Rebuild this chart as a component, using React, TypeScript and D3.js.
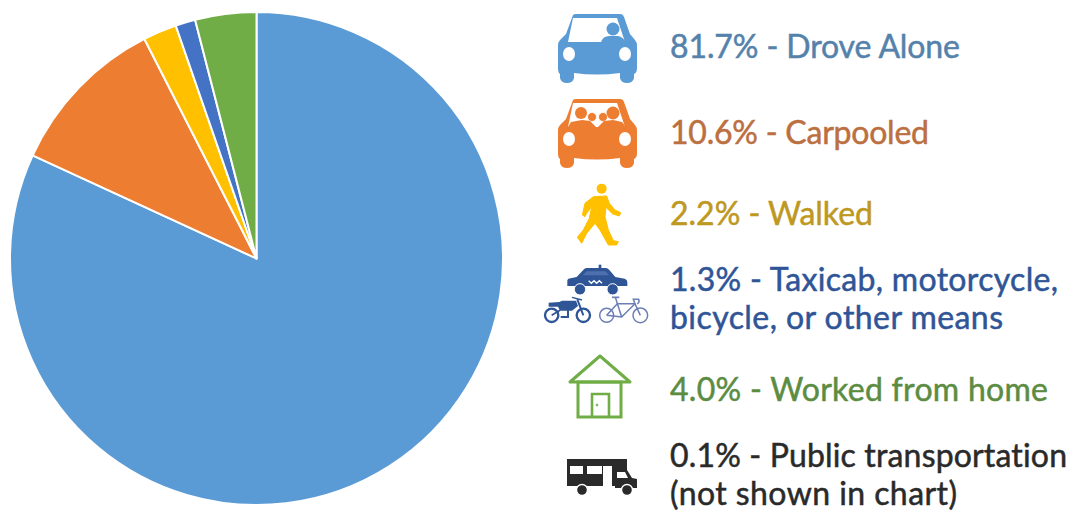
import React from "react";
import * as d3 from "d3";

const WIDTH = 1073;
const HEIGHT = 516;

const categories = ["Drove Alone", "Carpooled", "Walked", "Taxicab, motorcycle, bicycle, or other means", "Worked from home"];
const shares = [81.7, 10.6, 2.2, 1.3, 4.0];
const sliceColors = ["#5B9BD5", "#ED7D31", "#FFC000", "#4472C4", "#70AD47"];

const legendText = [
  ["81.7% - Drove Alone"],
  ["10.6% - Carpooled"],
  ["2.2% - Walked"],
  ["1.3% - Taxicab, motorcycle,", "bicycle, or other means"],
  ["4.0% - Worked from home"],
  ["0.1% - Public transportation", "(not shown in chart)"],
];
const legendColors = ["#5482AB", "#BC6F3F", "#BE981F", "#2F5597", "#5C8C42", "#2A2A2A"];

// Legend layout: baselines and rendered widths for each line of each row.
const legendBaselines = [[58], [144], [225], [291, 329], [401], [467, 505]];
const legendWidths = [[290], [259], [203], [388, 333], [378], [397, 287]];

const font = "Lato, 'Open Sans', sans-serif";

function Car({ dy, color, children }: { dy: number; color: string; children?: React.ReactNode }) {
  return (
    <g transform={`translate(0,${dy})`} fill={color}>
      <path d="M573 15 Q574 14 576 14 L620 14 Q623 14 624 17 L630 34 L635 40 Q637 42 637 46 L637 68 Q637 73 634 74 L634 78 Q633 83 627 83 Q621 83 620 78 L620 73 Q597 76 574 73 L574 78 Q573 83 567 83 Q561 83 560 78 L560 74 Q558 73 558 68 L558 46 Q558 42 560 40 L566 34 Z" />
      <path d="M573 18 L617 18 L625 42 L568 42 Z" fill="#fff" />
      <ellipse cx={569} cy={54} rx={6} ry={7} fill="#fff" />
      <ellipse cx={625} cy={54} rx={6} ry={7} fill="#fff" />
      {children}
    </g>
  );
}

function Walker({ color }: { color: string }) {
  return (
    <g transform="translate(540,0) scale(0.3333)" fill={color}>
      <circle cx={185} cy={566} r={15} />
      <path
        d="M160 590 L200 588 L208 610 L225 630 L242 638 L238 648 L218 642 L198 622 L195 650 L205 690 L220 722 L235 725 L230 735 L205 735 L180 690 L165 670 L140 700 L125 730 L112 712 L130 690 L148 655 L155 620 L140 640 L135 650 L127 645 L135 610 Z"
        strokeLinejoin="round"
        stroke={color}
        strokeWidth={3}
      />
    </g>
  );
}

function TaxiAndCycles() {
  const c = "#2F5597";
  const light = "#6C7FB5";
  return (
    <g transform="translate(540,262) scale(0.3333)">
      {/* taxi */}
      <path d="M82 54 Q84 50 92 49 L110 45 L132 22 Q135 18 142 18 L198 18 Q203 18 208 24 L226 45 L254 50 Q262 52 262 60 L262 72 L82 72 Z" fill={c} />
      <rect x={176} y={8} width={8} height={10} fill={c} />
      <path d="M128 40 L140 28 L196 28 L208 40 Z" fill="#4F70AE" />
      <circle cx={120} cy={82} r={17} fill={c} stroke="#fff" strokeWidth={3} />
      <circle cx={218} cy={82} r={17} fill={c} stroke="#fff" strokeWidth={3} />
      <path d="M146 56 L154 64 L162 56 L170 64 L178 56 L186 64" stroke="#fff" strokeWidth={4} fill="none" />

      {/* motorcycle */}
      <g stroke={c} fill="none">
        <circle cx={35} cy={160} r={20} strokeWidth={7} />
        <circle cx={130} cy={160} r={20} strokeWidth={7} />
        <path d="M112 112 L130 160" strokeWidth={6} />
        <path d="M96 106 L126 114" strokeWidth={4} />
        <path d="M35 160 L60 145" strokeWidth={5} />
        <path d="M84 138 L84 165 L62 165" strokeWidth={6} />
      </g>
      <path d="M26 122 L58 120 L66 116 L108 116 L114 132 L96 146 L60 146 L54 134 L26 134 Z" fill={c} />

      {/* bicycle */}
      <g stroke={light} fill="none" strokeWidth={4.5}>
        <circle cx={200} cy={160} r={21} />
        <circle cx={301} cy={160} r={22} />
        <path d="M200 160 L232 125 L285 125 L301 160" />
        <path d="M200 160 L245 165 L285 125" />
        <path d="M226 106 L245 165" />
        <path d="M216 106 L238 106" strokeWidth={5} />
        <path d="M285 125 L280 112 L296 112 Q300 120 292 126" />
      </g>
    </g>
  );
}

function House() {
  const c = "#70AD47";
  return (
    <g fill="none" stroke={c} strokeWidth={3}>
      <path d="M570 382 L600 356 L630 382 Z" strokeLinejoin="round" />
      <rect x={578} y={382} width={43} height={35} />
      <path d="M592 416 L592 394 L609 394 L609 416" strokeWidth={2.6} />
      <circle cx={597} cy={405} r={1} fill={c} strokeWidth={0.6} />
    </g>
  );
}

function Bus() {
  const c = "#2A2A2A";
  return (
    <g>
      <path d="M567 459 L627 459 L627 470 L615 470 L615 486 L567 486 Z" fill={c} />
      <path d="M615 470 L627 470 L632 478 L637 479 L637 488 L615 488 Z" fill={c} />
      <rect x={570} y={466} width={13} height={8} fill="#fff" />
      <rect x={587} y={466} width={15} height={8} fill="#fff" />
      <rect x={603} y={466} width={9} height={20} fill="#fff" />
      <path d="M617 472 L625 472 L628 478 L617 478 Z" fill="#fff" />
      <circle cx={582} cy={490} r={5.5} fill={c} stroke="#fff" strokeWidth={1.4} />
      <circle cx={627} cy={490} r={5.5} fill={c} stroke="#fff" strokeWidth={1.4} />
    </g>
  );
}

export default function App() {
  const cx = 256.5;
  const cy = 258.5;
  const radius = 246.5;
  const pie = d3.pie<number>().sort(null).value((d) => d);
  const arc = d3.arc<d3.PieArcDatum<number>>().innerRadius(0).outerRadius(radius);
  const slices = pie(shares);

  return (
    <svg
      width={WIDTH}
      height={HEIGHT}
      viewBox={`0 0 ${WIDTH} ${HEIGHT}`}
      style={{ position: "absolute", left: 0, top: 0, background: "#fff" }}
    >
      <g transform={`translate(${cx},${cy})`}>
        {slices.map((s, i) => (
          <path key={categories[i]} d={arc(s) ?? ""} fill={sliceColors[i]} stroke="#fff" strokeWidth={2} strokeLinejoin="round" />
        ))}
      </g>

      <Car dy={0} color={sliceColors[0]}>
        <circle cx={613} cy={29} r={6.5} />
        <path d="M601 42 Q603 36 609 36 L618 36 Q623 37 626 42 Z" />
      </Car>
      <Car dy={85} color={sliceColors[1]}>
        <circle cx={581} cy={28} r={6} />
        <circle cx={592} cy={32} r={4.5} stroke="#fff" strokeWidth={0.8} />
        <circle cx={603} cy={32} r={4.5} stroke="#fff" strokeWidth={0.8} />
        <circle cx={613} cy={28} r={6.5} />
        <path d="M568 42 L571 37 L582 35 L590 36 L596 42 Z" />
        <path d="M598 42 L604 36 L613 35 L622 37 L626 42 Z" />
      </Car>
      <Walker color={sliceColors[2]} />
      <TaxiAndCycles />
      <House />
      <Bus />

      {legendText.map((lines, i) =>
        lines.map((line, j) => (
          <text
            key={line}
            x={670}
            y={legendBaselines[i][j]}
            fill={legendColors[i]}
            stroke={legendColors[i]}
            strokeWidth={0.5}
            fontFamily={font}
            fontSize={32}
            textLength={legendWidths[i][j]}
            lengthAdjust="spacing"
            style={{ fontVariantLigatures: "none" }}
          >
            {line}
          </text>
        ))
      )}
    </svg>
  );
}
